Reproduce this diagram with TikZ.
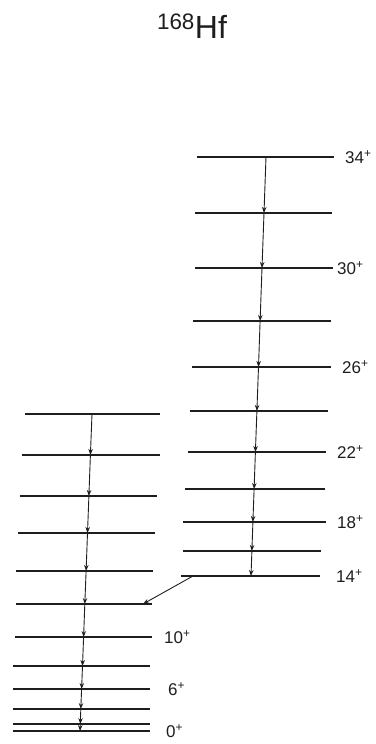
\documentclass[tikz,border=0pt]{standalone}
\usepackage{fontspec}
\setmainfont{Liberation Sans}
\usepackage{xcolor}
\definecolor{inkgray}{RGB}{30, 30, 30}
\usepackage{tikz}
\usetikzlibrary{arrows.meta, positioning}

\begin{document}
\begin{tikzpicture}[x=1pt, y=-1pt,
    level/.style={draw=inkgray, line width=1.1pt},
    trans/.style={draw=inkgray, line width=0.9pt, -{Stealth[length=6pt, width=4.5pt]}},
    spin/.style={font=\fontsize{17}{19}\selectfont, inkgray, anchor=west, inner sep=0pt}]
  \useasboundingbox (0,0) rectangle (375,744);

  % Title
  \node[font=\fontsize{32}{34}\selectfont, inkgray] (title) at (192,26) {\textsuperscript{168}Hf};

  % Right band (yrast continuation)
  \draw[level] (197,157) -- (334,157); \coordinate (r34) at (266.0,157);
  \draw[level] (195,213) -- (332,213); \coordinate (r32) at (264.0,213);
  \draw[level] (195,268) -- (333,268); \coordinate (r30) at (262.0,268);
  \draw[level] (193,321) -- (331,321); \coordinate (r28) at (260.1,321);
  \draw[level] (192,367) -- (331,367); \coordinate (r26) at (258.5,367);
  \draw[level] (190,411) -- (328,411); \coordinate (r24) at (256.9,411);
  \draw[level] (188,452) -- (326,452); \coordinate (r22) at (255.4,452);
  \draw[level] (185,489) -- (325,489); \coordinate (r20) at (254.1,489);
  \draw[level] (183,522) -- (326,522); \coordinate (r18) at (252.9,522);
  \draw[level] (183,551) -- (321,551); \coordinate (r16) at (251.9,551);
  \draw[level] (181,576) -- (320,576); \coordinate (r14) at (251.0,576);
  \coordinate (r14end) at (193,576);

  \node[spin] (s34) at (345,157) {34\textsuperscript{+}};
  \node[spin] (s30) at (337,268) {30\textsuperscript{+}};
  \node[spin] (s26) at (342,367) {26\textsuperscript{+}};
  \node[spin] (s22) at (337,452) {22\textsuperscript{+}};
  \node[spin] (s18) at (337,522) {18\textsuperscript{+}};
  \node[spin] (s14) at (336,576) {14\textsuperscript{+}};

  % Left band (ground band)
  \draw[level] (25,414) -- (160,414); \coordinate (l22) at (92.0,414);
  \draw[level] (22,455) -- (160,455); \coordinate (l20) at (90.4,455);
  \draw[level] (20,496) -- (157,496); \coordinate (l18) at (88.9,496);
  \draw[level] (18,533) -- (155,533); \coordinate (l16) at (87.5,533);
  \draw[level] (16,571) -- (153,571); \coordinate (l14) at (86.1,571);
  \draw[level] (16,604) -- (152,604); \coordinate (l12) at (84.8,604);
  \draw[level] (15,637) -- (152,637); \coordinate (l10) at (83.6,637);
  \draw[level] (13,666) -- (150,666); \coordinate (l8)  at (82.5,666);
  \draw[level] (13,689) -- (150,689); \coordinate (l6)  at (81.6,689);
  \draw[level] (13,709) -- (150,709); \coordinate (l4)  at (80.8,709);
  \draw[level] (13,724) -- (150,724); \coordinate (l2)  at (80.3,724);
  \draw[level] (13,731) -- (150,731); \coordinate (l0)  at (80.0,731);
  \coordinate (l12end) at (143,604);

  \node[spin] (s10) at (164,637) {10\textsuperscript{+}};
  \node[spin] (s6)  at (168,689) {6\textsuperscript{+}};
  \node[spin] (s0)  at (166,731) {0\textsuperscript{+}};

  % Transitions
  \draw[trans] (r34) -- (r32);
  \draw[trans] (r32) -- (r30);
  \draw[trans] (r30) -- (r28);
  \draw[trans] (r28) -- (r26);
  \draw[trans] (r26) -- (r24);
  \draw[trans] (r24) -- (r22);
  \draw[trans] (r22) -- (r20);
  \draw[trans] (r20) -- (r18);
  \draw[trans] (r18) -- (r16);
  \draw[trans] (r16) -- (r14);
  \draw[trans] (r14end) -- (l12end);

  \draw[trans] (l22) -- (l20);
  \draw[trans] (l20) -- (l18);
  \draw[trans] (l18) -- (l16);
  \draw[trans] (l16) -- (l14);
  \draw[trans] (l14) -- (l12);
  \draw[trans] (l12) -- (l10);
  \draw[trans] (l10) -- (l8);
  \draw[trans] (l8)  -- (l6);
  \draw[trans] (l6)  -- (l4);
  \draw[trans] (l4)  -- (l2);
  \draw[trans] (l2)  -- (l0);
\end{tikzpicture}
\end{document}
